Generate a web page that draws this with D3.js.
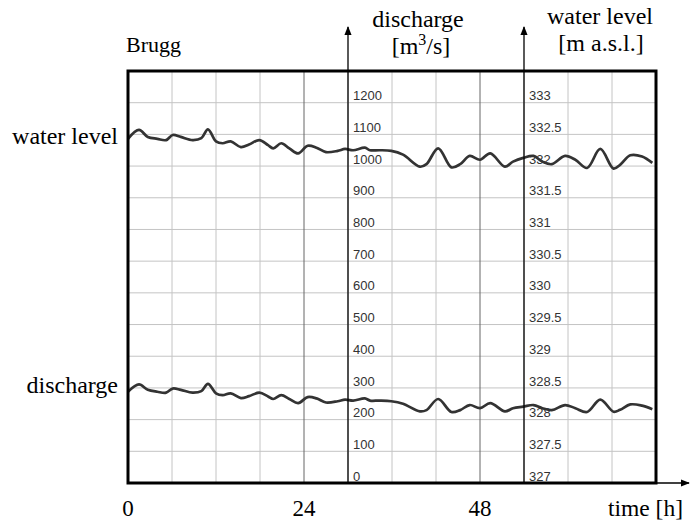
<!DOCTYPE html>
<html>
<head>
<meta charset="utf-8">
<script src="https://cdn.jsdelivr.net/npm/d3@7"></script>
<style>
  body { margin: 0; background: #fff; }
</style>
</head>
<body>
<div id="chart"></div>
<script>
// readings taken off the plot (hours since start)
const timeH = [0, 1.5, 2.7, 4, 5.2, 6.1, 7.2, 8.8, 10, 10.9, 12, 12.9, 14, 15.4, 16.5, 17.9,
  19.1, 19.8, 20.9, 22, 23.2, 24.5, 25.7, 27, 28.6, 29.6, 30.7, 32.3, 33, 34.3, 35.9,
  37.5, 39.8, 40.7, 42.3, 44.1, 45.3, 46.6, 48, 49.4, 51.4, 52.5, 53.9, 55.3, 56.5,
  57.8, 59.6, 61, 62.6, 64.4, 66.2, 67.1, 68.5, 70.1, 71.5];

const waterLevel = [332.43, 332.57, 332.46, 332.43, 332.41, 332.49, 332.46, 332.41, 332.44, 332.58,
  332.39, 332.36, 332.39, 332.30, 332.34, 332.41, 332.33, 332.28, 332.36, 332.28, 332.20,
  332.32, 332.29, 332.22, 332.24, 332.27, 332.25, 332.29, 332.25, 332.25, 332.24, 332.18,
  331.99, 332.03, 332.28, 331.98, 332.03, 332.16, 332.10, 332.20, 331.99, 332.07, 332.13,
  332.16, 332.07, 332.03, 332.16, 332.10, 331.97, 332.27, 331.96, 332.02, 332.17, 332.15, 332.05];

const discharge = [288, 311, 294, 288, 285, 298, 294, 285, 290, 313, 283, 277, 283, 268, 274, 285,
  273, 265, 277, 265, 252, 271, 267, 254, 258, 263, 260, 267, 260, 260, 258, 250,
  226, 230, 265, 224, 230, 246, 236, 252, 226, 236, 241, 246, 236, 230, 246, 236,
  224, 263, 225, 231, 248, 244, 233];

const qTicks = [0, 100, 200, 300, 400, 500, 600, 700, 800, 900, 1000, 1100, 1200];
const wTicks = [327, 327.5, 328, 328.5, 329, 329.5, 330, 330.5, 331, 331.5, 332, 332.5, 333];
const timeTicks = [0, 24, 48];
const gridHours = d3.range(6, 72, 6);

const width = 696;
const height = 521;
const margin = { top: 71, right: 40, bottom: 38, left: 128 };
const serif = "'Liberation Serif', 'Times New Roman', serif";
const sans = "'Liberation Sans', Arial, sans-serif";

const svg = d3.select('#chart')
  .append('svg')
  .attr('width', width)
  .attr('height', height);

svg.append('defs').append('marker')
  .attr('id', 'arrow')
  .attr('viewBox', '0 0 10 10')
  .attr('refX', 9).attr('refY', 5)
  .attr('markerWidth', 9).attr('markerHeight', 9)
  .attr('markerUnits', 'userSpaceOnUse')
  .attr('orient', 'auto')
  .append('path')
  .attr('d', 'M0,1 L10,5 L0,9 Z')
  .attr('fill', '#000');

const x = d3.scaleLinear()
  .domain([0, 72])
  .range([margin.left, 656]);

const yQ = d3.scaleLinear()
  .domain([0, 1300])
  .range([height - margin.bottom, margin.top]);

const yW = d3.scaleLinear()
  .domain([327, 333.5])
  .range([height - margin.bottom, margin.top]);

const plotBottom = yQ(0);
const plotTop = yQ(1300);

// grid
svg.append('g')
  .selectAll('line')
  .data(qTicks.slice(1))
  .join('line')
    .attr('x1', x(0)).attr('x2', x(72))
    .attr('y1', d => yQ(d)).attr('y2', d => yQ(d))
    .attr('stroke', '#c4c4c4')
    .attr('stroke-width', 1);

svg.append('g')
  .selectAll('line')
  .data(gridHours)
  .join('line')
    .attr('x1', d => x(d)).attr('x2', d => x(d))
    .attr('y1', plotTop).attr('y2', plotBottom)
    .attr('stroke', d => (d === 24 || d === 48) ? '#666' : '#c4c4c4')
    .attr('stroke-width', 1);

// curves
const wLine = d3.line()
  .x((d, i) => x(timeH[i]))
  .y(d => yW(d))
  .curve(d3.curveCatmullRom);

const qLine = d3.line()
  .x((d, i) => x(timeH[i]))
  .y(d => yQ(d))
  .curve(d3.curveCatmullRom);

svg.append('path')
  .datum(waterLevel)
  .attr('d', wLine)
  .attr('fill', 'none')
  .attr('stroke', '#333')
  .attr('stroke-width', 2.7)
  .attr('stroke-linejoin', 'round');

svg.append('path')
  .datum(discharge)
  .attr('d', qLine)
  .attr('fill', 'none')
  .attr('stroke', '#333')
  .attr('stroke-width', 2.7)
  .attr('stroke-linejoin', 'round');

// frame
svg.append('rect')
  .attr('x', x(0)).attr('y', plotTop)
  .attr('width', x(72) - x(0))
  .attr('height', plotBottom - plotTop)
  .attr('fill', 'none')
  .attr('stroke', '#000')
  .attr('stroke-width', 3);

// inner axes with arrows
function innerAxis(g, t, scale, ticks) {
  g.attr('transform', `translate(${x(t)},0)`)
    .call(d3.axisRight(scale).tickValues(ticks).tickSize(0).tickPadding(5).tickFormat(d => d))
    .call(g => g.select('.domain').remove())
    .call(g => g.selectAll('text')
      .attr('dy', '-0.22em')
      .attr('fill', '#333')
      .attr('font-family', sans)
      .attr('font-size', '13px'));
  g.append('line')
    .attr('x1', 0).attr('x2', 0)
    .attr('y1', plotBottom).attr('y2', 27)
    .attr('stroke', '#000')
    .attr('stroke-width', 1.3)
    .attr('marker-end', 'url(#arrow)');
}

svg.append('g').call(innerAxis, 30, yQ, qTicks);
svg.append('g').call(innerAxis, 54, yW, wTicks);

// time axis
svg.append('line')
  .attr('x1', x(72)).attr('x2', 689)
  .attr('y1', plotBottom).attr('y2', plotBottom)
  .attr('stroke', '#000')
  .attr('stroke-width', 1.3)
  .attr('marker-end', 'url(#arrow)');

svg.append('g')
  .selectAll('text')
  .data(timeTicks)
  .join('text')
    .attr('x', d => x(d))
    .attr('y', 516)
    .attr('text-anchor', 'middle')
    .attr('font-family', serif)
    .attr('font-size', '23px')
    .text(d => d);

const labels = [
  { text: 'time [h]', x: 683, y: 516, anchor: 'end', size: 23.5 },
  { text: 'Brugg', x: 126, y: 52, anchor: 'start', size: 22 },
  { text: 'water level', x: 118, y: 144, anchor: 'end', size: 24 },
  { text: 'discharge', x: 118, y: 393, anchor: 'end', size: 24 },
  { text: 'discharge', x: 418, y: 27, anchor: 'middle', size: 24 },
  { text: 'water level', x: 600, y: 24, anchor: 'middle', size: 24 },
  { text: '[m a.s.l.]', x: 601, y: 51, anchor: 'middle', size: 24 }
];

svg.append('g')
  .selectAll('text')
  .data(labels)
  .join('text')
    .attr('x', d => d.x)
    .attr('y', d => d.y)
    .attr('text-anchor', d => d.anchor)
    .attr('font-family', serif)
    .attr('font-size', d => d.size + 'px')
    .text(d => d.text);

const unitQ = svg.append('text')
  .attr('x', 421).attr('y', 54)
  .attr('text-anchor', 'middle')
  .attr('font-family', serif)
  .attr('font-size', '24px');
unitQ.append('tspan').text('[m');
unitQ.append('tspan').attr('dy', '-9').attr('font-size', '16px').text('3');
unitQ.append('tspan').attr('dy', '9').text('/s]');
</script>
</body>
</html>
